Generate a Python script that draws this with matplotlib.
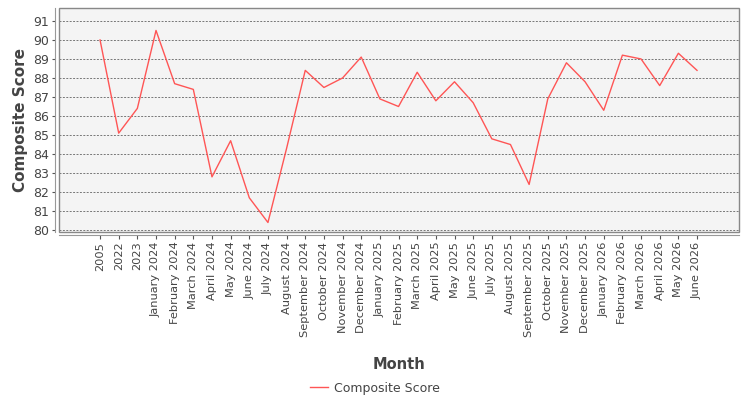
import matplotlib
matplotlib.use("Agg")
import matplotlib.pyplot as plt
from matplotlib.patches import Rectangle

months = ["2005", "2022", "2023",
          "January 2024", "February 2024", "March 2024", "April 2024", "May 2024", "June 2024",
          "July 2024", "August 2024", "September 2024", "October 2024", "November 2024", "December 2024",
          "January 2025", "February 2025", "March 2025", "April 2025", "May 2025", "June 2025",
          "July 2025", "August 2025", "September 2025", "October 2025", "November 2025", "December 2025",
          "January 2026", "February 2026", "March 2026", "April 2026", "May 2026", "June 2026"]
composite_score = [90.0, 85.1, 86.4,
                   90.5, 87.7, 87.4, 82.8, 84.7, 81.7,
                   80.4, 84.3, 88.4, 87.5, 88.0, 89.1,
                   86.9, 86.5, 88.3, 86.8, 87.8, 86.7,
                   84.8, 84.5, 82.4, 86.9, 88.8, 87.8,
                   86.3, 89.2, 89.0, 87.6, 89.3, 88.4]
y_ticks = list(range(80, 92))

plt.rcParams['font.family'] = ['DejaVu Sans']
fig = plt.figure(figsize=(7.5, 4.0), dpi=100)
ax = fig.add_axes([59/750, 1 - 232/400, (739 - 59)/750, (232 - 8)/400])
ax.set_facecolor('#F4F4F4')

x = list(range(len(months)))
ax.plot(x, composite_score, color='#FF5555', lw=1.0, label='Composite Score')

ax.set_xlim(-2.2, 34.25)
ax.set_ylim(79.9, 91.68)
ax.set_yticks(y_ticks)
ax.set_xticks(x)
ax.set_xticklabels(months)
ax.tick_params(axis='x', labelsize=8.2, colors='#555555', labelcolor='#444444',
               length=3, width=0.8, pad=2, labelrotation=90)
ax.tick_params(axis='y', labelsize=9, colors='#555555', labelcolor='#444444', length=2, width=0.8, pad=2)

ax.grid(axis='y', color='#777777', linestyle=(0, (2, 1.5)), linewidth=0.7)
ax.set_axisbelow(True)

for s in ['top', 'right']:
    ax.spines[s].set_visible(False)
ax.spines['bottom'].set_position(('outward', 2))
ax.spines['left'].set_position(('outward', 3))
ax.spines['bottom'].set_color('#999999')
ax.spines['left'].set_color('#999999')
ax.add_patch(Rectangle((0, 0), 1, 1, transform=ax.transAxes, fill=False,
                       ec='#888888', lw=1.0, clip_on=False, zorder=5))

ax.set_ylabel('Composite Score', fontsize=11, fontweight='bold', color='#444444', labelpad=4)
ax.set_xlabel('Month', fontsize=10.5, fontweight='bold', color='#444444', labelpad=14)

fig.legend(loc='lower center', bbox_to_anchor=(0.5, -0.015), frameon=False,
           fontsize=9, labelcolor='#444444', handlelength=1.4, handletextpad=0.5)

fig.savefig('out.png', dpi=100, facecolor='white')
